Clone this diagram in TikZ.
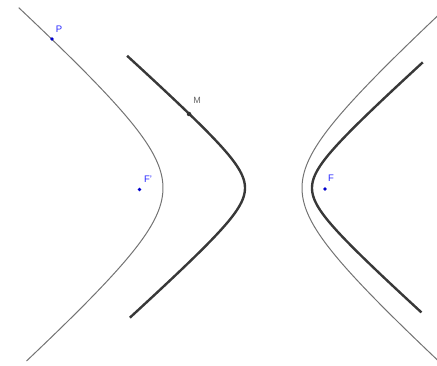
\documentclass[tikz,border=0pt]{standalone}
\usepackage{fontspec}
\setmainfont{Liberation Sans}
\begin{document}
\begin{tikzpicture}[x=1pt,y=-1pt,
  thincurve/.style={draw=black!55,line width=1pt},
  thickcurve/.style={draw=black!78,line width=2.4pt},
  bluept/.style={circle,fill=blue!80!black,inner sep=0pt,minimum size=3.6pt},
  graypt/.style={circle,fill=black!80,inner sep=0pt,minimum size=4.5pt},
  bluelbl/.style={text=blue!85!white,font=\fontsize{9.5}{9.5}\selectfont,inner sep=0pt},
  graylbl/.style={text=black!60,font=\fontsize{9}{9}\selectfont,inner sep=0pt}]
\useasboundingbox (0,0) rectangle (437,366);
\clip (0,0) rectangle (437,366);
% thin hyperbola: centre (232.5,188), a=69.5, b=62
\draw[thincurve,variable=\t,smooth,samples=80,domain=-1.75:1.79]
  plot ({232.5-69.5*cosh(\t)},{188-62*sinh(\t)});
\draw[thincurve,variable=\t,smooth,samples=80,domain=-1.75:1.78]
  plot ({232.5+69.5*cosh(\t)},{188-62*sinh(\t)});
% thick hyperbola: centre (278.5,188), a=33.5, b=30
\draw[thickcurve,variable=\t,smooth,samples=80,domain=-2.17:2.19]
  plot ({278.5-33.5*cosh(\t)},{188-30*sinh(\t)});
\draw[thickcurve,variable=\t,smooth,samples=80,domain=-2.13:2.14]
  plot ({278.5+33.5*cosh(\t)},{188-30*sinh(\t)});
% points
\node[bluept] (P) at (52,39) {};
\node[bluelbl] (Pl) at (59,29) {P};
\node[bluept] (F1) at (139.5,189.5) {};
\node[bluelbl] (F1l) at (148,179) {F'};
\node[bluept] (F) at (325,189) {};
\node[bluelbl] (Fl) at (331,178) {F};
\node[graypt] (M) at (189,114) {};
\node[graylbl] (Ml) at (197,100) {M};
\end{tikzpicture}
\end{document}
